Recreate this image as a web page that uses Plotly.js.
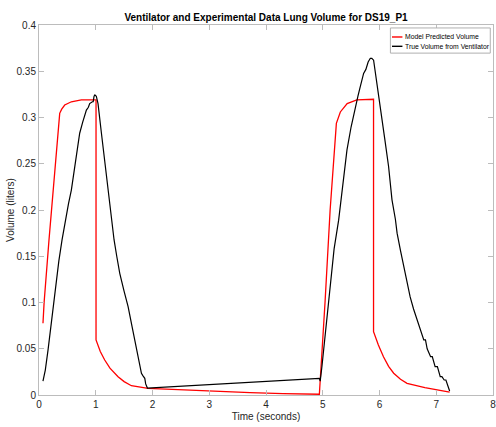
<!DOCTYPE html>
<html>
<head>
<meta charset="utf-8">
<script src="https://cdn.plot.ly/plotly-3.0.1.min.js"></script>
<style>html,body{margin:0;padding:0;background:#fff}#chart{width:496px;height:427px}</style>
</head>
<body>
<div id="chart"></div>
<script>
var tModel = [0.07, 0.09, 0.176, 0.365, 0.40, 0.453, 0.57, 0.746, 1.005, 1.005, 1.08, 1.158, 1.25, 1.393, 1.5, 1.628, 1.92, 2.5, 3.1, 3.72, 4.3, 4.94, 5.04, 5.13, 5.24, 5.31, 5.43, 5.6, 5.895, 5.895, 5.98, 6.07, 6.16, 6.25, 6.37, 6.485, 6.8, 7.236];
var vModel = [0.0775, 0.10, 0.1676, 0.3045, 0.309, 0.3135, 0.317, 0.319, 0.319, 0.0595, 0.047, 0.0378, 0.029, 0.0198, 0.0145, 0.010, 0.0072, 0.0055, 0.0040, 0.0025, 0.0015, 0.0008, 0.10, 0.20, 0.2937, 0.306, 0.315, 0.319, 0.3197, 0.0685, 0.054, 0.0414, 0.031, 0.0235, 0.017, 0.0126, 0.008, 0.003];

var tTrue = [0.07, 0.09, 0.111, 0.159, 0.2, 0.247, 0.3, 0.35, 0.406, 0.46, 0.52, 0.57, 0.62, 0.66, 0.717, 0.77, 0.835, 0.87, 0.893, 0.94, 0.955, 0.97, 0.985, 1.01, 1.04, 1.1, 1.16, 1.22, 1.27, 1.323, 1.37, 1.423, 1.5, 1.57, 1.64, 1.717, 1.76, 1.805, 1.83, 1.864, 1.88, 1.91, 4.94, 4.955, 4.985, 5.05, 5.13, 5.2, 5.28, 5.35, 5.427, 5.5, 5.573, 5.62, 5.66, 5.69, 5.72, 5.76, 5.8, 5.838, 5.865, 5.896, 5.95, 6.014, 6.09, 6.16, 6.22, 6.28, 6.31, 6.37, 6.425, 6.48, 6.54, 6.6, 6.66, 6.72, 6.78, 6.81, 6.84, 6.9, 6.93, 6.98, 7.02, 7.07, 7.1, 7.14, 7.17, 7.236];
var vTrue = [0.015, 0.02, 0.027, 0.0486, 0.07, 0.0955, 0.122, 0.145, 0.1676, 0.187, 0.207, 0.2216, 0.243, 0.26, 0.283, 0.295, 0.308, 0.311, 0.315, 0.317, 0.317, 0.323, 0.3245, 0.323, 0.315, 0.283, 0.252, 0.215, 0.19, 0.1676, 0.15, 0.1315, 0.112, 0.0955, 0.074, 0.052, 0.036, 0.0235, 0.021, 0.018, 0.012, 0.0075, 0.018, 0.015, 0.0306, 0.068, 0.121, 0.158, 0.189, 0.228, 0.265, 0.29, 0.3117, 0.323, 0.333, 0.342, 0.3477, 0.352, 0.36, 0.364, 0.364, 0.362, 0.337, 0.308, 0.278, 0.247, 0.211, 0.19, 0.175, 0.156, 0.139, 0.122, 0.106, 0.093, 0.081, 0.07, 0.0595, 0.0595, 0.05, 0.0414, 0.0414, 0.0306, 0.0306, 0.0198, 0.0198, 0.0162, 0.0162, 0.0043];

var xTicks = [0, 1, 2, 3, 4, 5, 6, 7, 8];
var yTicks = [0, 0.05, 0.1, 0.15, 0.2, 0.25, 0.3, 0.35, 0.4];
var yTickText = ['0', '0.05', '0.1', '0.15', '0.2', '0.25', '0.3', '0.35', '0.4'];
var seriesNames = ['Model Predicted Volume', 'True Volume from Ventilator'];
var seriesColors = ['#ff0000', '#000000'];

var FONT = '"Liberation Sans", Arial, Helvetica, sans-serif';

var traces = [
  {x: tModel, y: vModel, type: 'scatter', mode: 'lines', name: seriesNames[0],
   line: {color: seriesColors[0], width: 1.3}, showlegend: false},
  {x: tTrue, y: vTrue, type: 'scatter', mode: 'lines', name: seriesNames[1],
   line: {color: seriesColors[1], width: 1.2}, showlegend: false}
];

var axisCommon = {
  showgrid: false, zeroline: false, showline: true, mirror: 'ticks',
  linecolor: '#bcbcbc', linewidth: 1, ticks: 'inside', ticklen: 5, tickcolor: '#bcbcbc',
  tickfont: {family: FONT, size: 10, color: '#262626'}, ticklabeloverflow: 'allow'
};

// compact legend box (paper coordinates)
var lgX0 = 0.774, lgX1 = 0.994, lgY0 = 0.924, lgY1 = 0.992;
var rowY = [0.9676, 0.9424];
var shapes = [
  {type: 'rect', xref: 'paper', yref: 'paper', x0: lgX0, x1: lgX1, y0: lgY0, y1: lgY1,
   line: {color: '#b0b0b0', width: 1}, fillcolor: '#ffffff', layer: 'above'}
];
var annotations = [];
for (var i = 0; i < seriesNames.length; i++) {
  shapes.push({type: 'line', xref: 'paper', yref: 'paper', x0: 0.7775, x1: 0.8005, y0: rowY[i], y1: rowY[i],
               line: {color: seriesColors[i], width: 1.4}, layer: 'above'});
  annotations.push({xref: 'paper', yref: 'paper', x: 0.8015, y: rowY[i], xanchor: 'left', yanchor: 'middle',
                    text: seriesNames[i], showarrow: false, font: {family: FONT, size: 6.8, color: '#000000'}});
}

var layout = {
  width: 496, height: 427,
  margin: {l: 39, r: 3, t: 25, b: 32},
  paper_bgcolor: '#ffffff', plot_bgcolor: '#ffffff',
  font: {family: FONT, color: '#262626'},
  title: {text: '<b>Ventilator and Experimental Data Lung Volume for DS19_P1</b>',
          font: {family: FONT, size: 10, color: '#000000'}, xref: 'paper', x: 0.5, xanchor: 'center',
          yref: 'container', y: 0.96, yanchor: 'middle'},
  xaxis: Object.assign({}, axisCommon, {range: [0, 8], tickvals: xTicks, ticktext: xTicks.map(String),
          title: {text: 'Time (seconds)', font: {family: FONT, size: 10, color: '#262626'}, standoff: 3}}),
  yaxis: Object.assign({}, axisCommon, {range: [0, 0.4], tickvals: yTicks, ticktext: yTickText,
          title: {text: 'Volume (liters)', font: {family: FONT, size: 10, color: '#262626'}, standoff: 0}}),
  showlegend: false,
  shapes: shapes,
  annotations: annotations
};

Plotly.newPlot('chart', traces, layout, {displayModeBar: false, staticPlot: true});
</script>
</body>
</html>
